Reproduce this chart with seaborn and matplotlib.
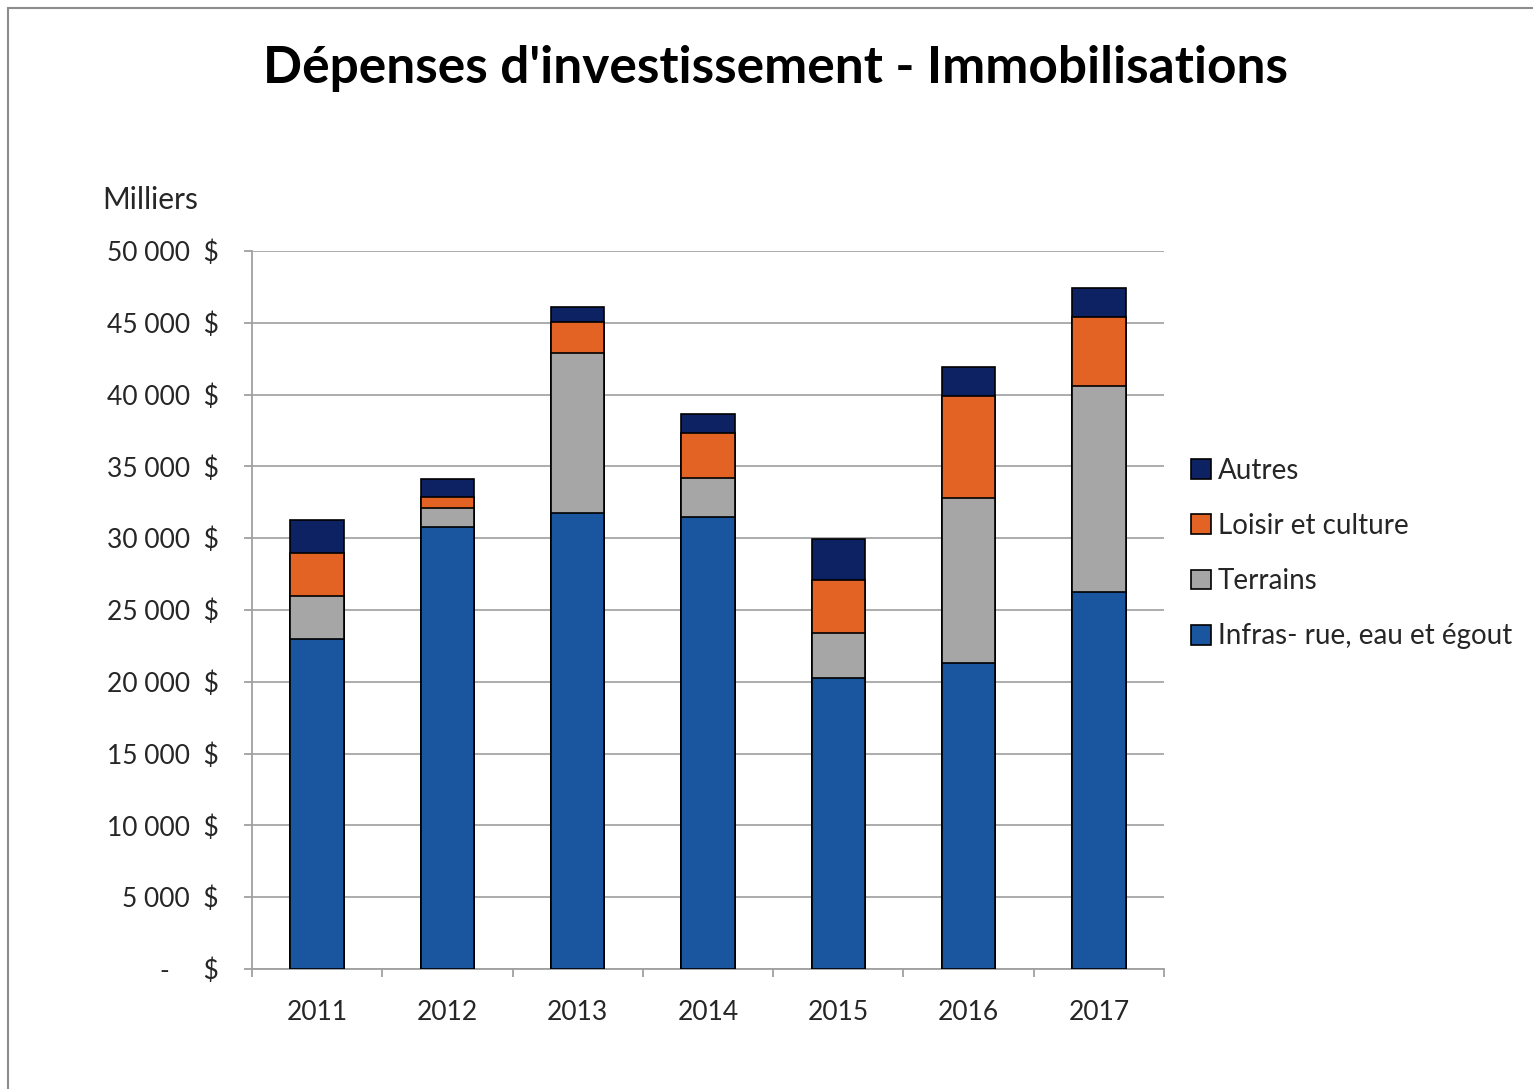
import numpy as np
import pandas as pd
import seaborn as sns
import matplotlib.pyplot as plt
from matplotlib.patches import Rectangle, Patch

years = ["2011", "2012", "2013", "2014", "2015", "2016", "2017"]
infras = [23000, 30800, 31750, 31500, 20250, 21300, 26250]
terrains = [3000, 1300, 11150, 2700, 3150, 11500, 14350]
loisir = [3000, 800, 2150, 3150, 3700, 7100, 4800]
autres = [2300, 1200, 1050, 1300, 2850, 2000, 2000]

series_names = ["Infras- rue, eau et égout", "Terrains", "Loisir et culture", "Autres"]
colors = ["#1a56a0", "#a6a6a6", "#e36325", "#0c2262"]

sns.set_theme(style="white")
plt.rcParams['font.family'] = ['Lato', 'DejaVu Sans']

df = pd.DataFrame({"year": years, "infras": infras, "terrains": terrains,
                   "loisir": loisir, "autres": autres})
layers = ["infras", "terrains", "loisir", "autres"]
cum = df[layers].cumsum(axis=1)

fig = plt.figure(figsize=(15.33, 10.89), dpi=100)
ax = fig.add_axes([252 / 1533, 120 / 1089, 912 / 1533, 718 / 1089])

# draw cumulative totals from top layer down so each segment shows
for key, col in reversed(list(zip(layers, colors))):
    sns.barplot(x=df["year"], y=cum[key], ax=ax, color=col, width=0.41,
                edgecolor="black", linewidth=1.2, saturation=1, zorder=3)

ax.set_ylim(0, 50000)
ax.set_xlim(-0.5, 6.5)
yt = np.arange(0, 50001, 5000)
ax.set_yticks(yt)
ax.set_yticklabels([("-     $" if v == 0 else f"{v:,.0f}".replace(",", " ") + "  $") for v in yt],
                   fontsize=19, color="#262626")
ax.yaxis.grid(True, color="#a6a6a6", linewidth=1.3, zorder=0)
ax.set_axisbelow(True)
ax.set_xlabel("")
ax.set_ylabel("")
ax.tick_params(axis="x", which="major", length=0, labelsize=19, pad=22, labelcolor="#262626")
ax.tick_params(axis="y", which="major", length=6, width=1.3, color="#a0a0a0", pad=18, left=True)
ax.set_xticks(np.arange(-0.5, 7, 1), minor=True)
ax.tick_params(axis="x", which="minor", length=6, width=1.3, color="#a0a0a0", bottom=True)
for s in ["top", "right"]:
    ax.spines[s].set_visible(False)
for s in ["left", "bottom"]:
    ax.spines[s].set_color("#a0a0a0")
    ax.spines[s].set_linewidth(1.3)

handles = [Patch(facecolor=c, edgecolor="black", linewidth=1.2, label=n)
           for n, c in zip(series_names, colors)]
leg = fig.legend(handles=handles[::-1], loc="upper left", bbox_to_anchor=(1177 / 1533, 1 - 444 / 1089),
                 frameon=False, fontsize=20, handlelength=0.72, handleheight=0.72,
                 handletextpad=0.25, labelspacing=1.05, borderpad=0)

fig.text(263 / 1533, 1 - 68 / 1089, "Dépenses d'investissement - Immobilisations",
         fontsize=37, fontweight="bold", va="center", ha="left", color="black")
fig.text(102 / 1533, 1 - 200 / 1089, "Milliers", fontsize=21.5, va="center", ha="left",
         color="#262626")

fig.patches.append(Rectangle((8 / 1533, -0.05), 1.1, 1 - 8 / 1089 + 0.05,
                             transform=fig.transFigure, fill=False,
                             edgecolor="#8c8c8c", linewidth=1.5))

fig.savefig("out.png", dpi=100)
